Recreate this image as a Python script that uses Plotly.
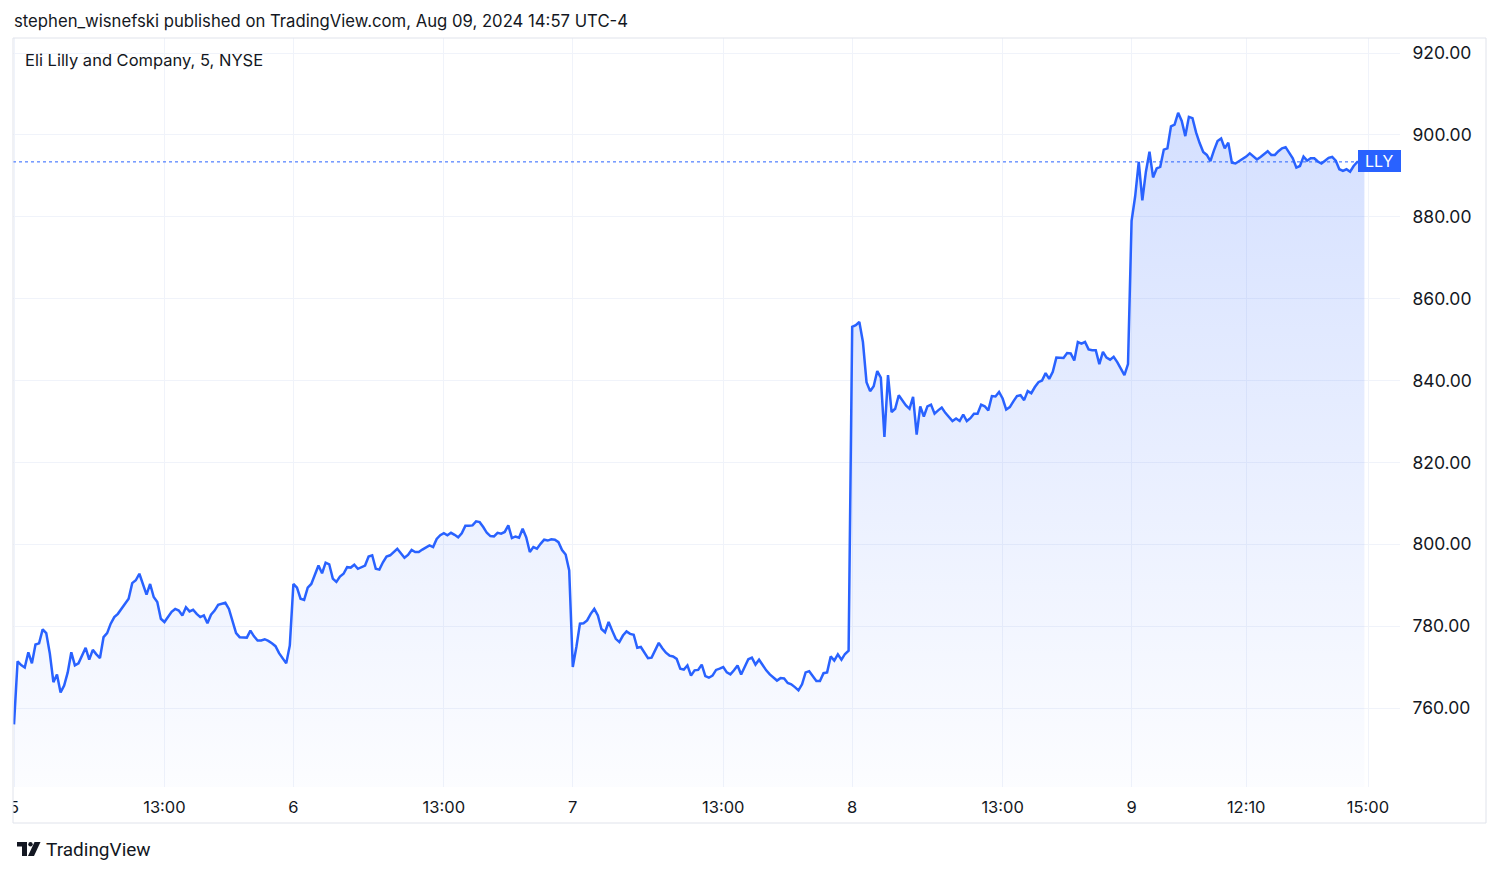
import numpy as np
import plotly.graph_objects as go

# ---------------- data (5-minute closes, LLY, Aug 5-9 2024) ----------------
day5 = [756.0, 771.4, 770.5, 769.9, 773.6, 770.9, 775.5, 775.8, 779.2, 778.3,
        773.3, 766.3, 768.2, 763.8, 765.5, 768.7, 773.6, 770.4, 770.9, 773.0,
        774.7, 771.8, 774.2, 773.1, 772.2, 777.3, 778.3, 780.6, 782.2, 783.0,
        784.2, 785.2, 786.7, 790.5, 791.2, 792.8, 790.2, 787.7, 790.3, 787.1,
        785.9, 781.8, 781.0, 782.2, 783.5, 784.2, 783.8, 782.6, 784.6, 783.6,
        784.0, 783.0, 782.2, 782.6, 780.7, 782.8, 783.8, 785.2, 785.4, 785.7,
        784.2, 781.4, 778.3, 777.3, 777.2, 777.2, 778.9, 777.5, 776.5, 776.5,
        776.8, 776.4, 775.8, 775.1, 773.4, 772.2, 770.9, 775.3]
day6 = [790.3, 789.4, 786.7, 786.4, 789.4, 790.3, 792.4, 794.8, 792.9, 795.5,
        795.1, 791.6, 790.8, 792.1, 792.8, 794.4, 794.3, 795.0, 794.0, 794.4,
        794.8, 797.0, 797.3, 794.0, 793.8, 795.6, 797.0, 797.3, 798.1, 798.9,
        797.8, 796.7, 797.4, 798.6, 798.1, 798.1, 798.7, 799.3, 799.7, 799.3,
        801.3, 802.2, 802.7, 802.2, 802.8, 802.3, 801.7, 802.7, 804.5, 804.5,
        804.6, 805.6, 805.4, 804.2, 802.8, 802.0, 801.9, 802.8, 802.6, 803.0,
        804.6, 801.5, 801.9, 801.6, 803.8, 801.7, 798.1, 799.3, 798.9, 800.1,
        801.1, 800.9, 801.2, 801.1, 800.5, 798.6, 797.5, 793.6]
day7 = [770.0, 774.9, 780.6, 780.7, 781.4, 783.0, 784.2, 782.6, 779.3, 778.5,
        781.0, 778.9, 776.9, 776.1, 777.7, 778.7, 778.1, 777.9, 774.7, 774.9,
        773.4, 772.2, 772.3, 774.1, 775.9, 774.6, 773.5, 772.8, 772.6, 772.0,
        769.6, 769.4, 770.4, 767.9, 769.2, 769.3, 770.6, 767.8, 767.4, 767.9,
        769.3, 769.6, 770.0, 768.7, 768.2, 769.2, 770.4, 768.2, 770.2, 771.9,
        772.3, 770.6, 771.8, 770.4, 769.2, 768.2, 767.5, 766.7, 767.3, 767.2,
        766.1, 765.8, 765.1, 764.3, 765.8, 768.7, 769.0, 767.7, 766.6, 766.6,
        768.5, 768.7, 772.6, 771.6, 773.1, 771.8, 773.2, 774.0]
day8 = [853.1, 853.5, 854.3, 849.4, 839.6, 837.4, 838.6, 842.3, 840.7, 826.2,
        841.3, 832.3, 833.1, 836.4, 835.2, 833.9, 833.1, 836.0, 826.8, 833.7,
        831.2, 833.7, 834.1, 831.9, 832.7, 833.4, 832.1, 831.1, 830.1, 830.7,
        830.1, 831.7, 830.1, 830.8, 831.9, 831.9, 834.1, 833.7, 832.7, 836.2,
        836.1, 837.2, 835.6, 832.9, 833.5, 834.9, 836.2, 836.4, 835.2, 837.4,
        836.9, 838.4, 839.6, 840.0, 841.8, 840.4, 842.1, 845.6, 845.5, 845.5,
        846.7, 846.6, 844.9, 849.4, 849.0, 849.4, 847.6, 847.4, 847.4, 844.0,
        847.0, 845.6, 845.1, 845.8, 844.5, 842.7, 841.3, 844.0]
day9 = [879.0, 885.0, 893.4, 884.0, 891.0, 895.9, 889.6, 891.8, 892.2, 896.4,
        896.7, 902.1, 902.5, 905.4, 903.4, 899.7, 904.4, 904.1, 900.6, 898.0,
        895.8, 895.1, 893.6, 896.2, 898.5, 899.1, 896.7, 898.1, 893.2, 893.0,
        893.6, 894.0, 894.7, 895.5, 894.7, 894.0, 894.6, 895.3, 896.0, 895.1,
        895.1, 896.0, 896.7, 897.0, 895.5, 894.3, 892.0, 892.4, 894.7, 893.7,
        894.3, 894.3, 893.5, 893.0, 893.7, 894.4, 894.6, 893.7, 891.6, 891.2,
        891.6, 891.0, 892.4, 893.4, 893.4, 893.4]

tick_bars = [0, 42, 78, 120, 156, 198, 234, 276, 312, 344, 378]
tick_labels = ["5", "13:00", "6", "13:00", "7", "13:00", "8", "13:00", "9", "12:10", "15:00"]
price_ticks = [760, 780, 800, 820, 840, 860, 880, 900, 920]
last_price = day9[-1]
symbol = "LLY"
title_text = "stephen_wisnefski published on TradingView.com, Aug 09, 2024 14:57 UTC-4"
series_title = "Eli Lilly and Company, 5, NYSE"

closes = day5 + day6 + day7 + day8 + day9
bars = np.arange(len(closes))

# ---------------- layout geometry (page pixels; the page body has an 8px margin) ----------------
OFF = 8
W, H = 1500 - OFF, 873 - OFF
PL, PR, PT, PB = 9, 1400, 38, 787          # plot box in page pixels
ML, MR, MT, MB = PL - OFF, W - (PR - OFF), PT - OFF, H - (PB - OFF)
PW, PH = W - ML - MR, H - MT - MB
BAR_PX = 3.582
X0_PX = 14.0  # page pixel of bar 0
x_lo = (PL - X0_PX) / BAR_PX
x_hi = (PR - X0_PX) / BAR_PX
PX_PER_USD = (708 - 53) / 160.0
y_hi = 920 + (53 - PT) / PX_PER_USD
y_lo = 920 - (PB - 53) / PX_PER_USD

def px(xp):
    return (xp - PL) / PW

def py(yp):
    return (PB - yp) / PH

BLUE = "#2962FF"
TEXT = "#131722"
GRID = "#F0F3FA"
FONT = "Inter, Roboto, sans-serif"

fig = go.Figure()
fig.add_trace(go.Scatter(
    x=bars, y=closes, mode="lines",
    line=dict(color=BLUE, width=2.5),
    fill="tozeroy",
    fillgradient=dict(type="vertical",
                      colorscale=[[0, "rgba(41,98,255,0.015)"], [1, "rgba(41,98,255,0.20)"]],
                      start=y_lo, stop=max(closes)),
    hoverinfo="skip", showlegend=False,
))

shapes = []
shapes.append(dict(type="line", xref="paper", yref="y", x0=px(13), x1=px(1358),
                   y0=last_price, y1=last_price,
                   line=dict(color=BLUE, width=1, dash="dot")))
shapes.append(dict(type="rect", xref="paper", yref="paper",
                   x0=px(1358), x1=px(1401), y0=py(172), y1=py(150),
                   fillcolor=BLUE, line=dict(width=0), layer="above"))
# white masks: left of frame (clips the "5" label and line start like the reference pane)
shapes.append(dict(type="rect", xref="paper", yref="paper",
                   x0=px(OFF), x1=px(13), y0=py(823), y1=py(38),
                   fillcolor="white", line=dict(width=0), layer="above"))
shapes.append(dict(type="rect", xref="paper", yref="paper",
                   x0=px(13), x1=px(1486), y0=py(823), y1=py(38),
                   line=dict(color="#E0E3EB", width=1), layer="above"))

def path(points):
    return "M " + " L ".join(f"{px(a):.6f},{py(b):.6f}" for a, b in points) + " Z"

shapes.append(dict(type="path", xref="paper", yref="paper",
                   path=path([(17, 842), (27, 842), (27, 856), (22, 856), (22, 846.5), (17, 846.5)]),
                   fillcolor=TEXT, line=dict(width=0)))
shapes.append(dict(type="path", xref="paper", yref="paper",
                   path=path([(34.5, 842), (40.5, 842), (34, 856), (28, 856)]),
                   fillcolor=TEXT, line=dict(width=0)))
shapes.append(dict(type="circle", xref="paper", yref="paper",
                   x0=px(28.3), x1=px(32.7), y0=py(846.5), y1=py(842.1),
                   fillcolor=TEXT, line=dict(width=0)))

annotations = [
    dict(text=title_text, xref="paper", yref="paper", x=px(12), y=py(21),
         xanchor="left", yanchor="middle", showarrow=False,
         font=dict(family=FONT, size=16.7, color=TEXT)),
    dict(text=series_title, xref="paper", yref="paper", x=px(23), y=py(60),
         xanchor="left", yanchor="middle", showarrow=False,
         font=dict(family=FONT, size=16.5, color=TEXT)),
    dict(text=symbol, xref="paper", yref="paper", x=px(1379.5), y=py(161),
         xanchor="center", yanchor="middle", showarrow=False,
         font=dict(family=FONT, size=16, color="white")),
    dict(text="TradingView", xref="paper", yref="paper", x=px(44), y=py(849),
         xanchor="left", yanchor="middle", showarrow=False,
         font=dict(family="Roboto, sans-serif", size=19, color=TEXT)),
]

fig.update_layout(
    width=W, height=H,
    margin=dict(l=ML, r=MR, t=MT, b=MB, pad=0, autoexpand=False),
    paper_bgcolor="white", plot_bgcolor="white",
    font=dict(family=FONT, color=TEXT),
    shapes=shapes, annotations=annotations,
    xaxis=dict(range=[x_lo, x_hi], tickvals=tick_bars, ticktext=tick_labels,
               showgrid=True, gridcolor=GRID, gridwidth=1, zeroline=False, showline=False,
               ticks="outside", ticklen=5, tickcolor="rgba(0,0,0,0)", automargin=False,
               tickfont=dict(family=FONT, size=16.5, color=TEXT), fixedrange=True),
    yaxis=dict(range=[y_lo, y_hi], side="right", tickvals=price_ticks,
               ticktext=[f"{v:.2f}" for v in price_ticks],
               showgrid=True, gridcolor=GRID, gridwidth=1, zeroline=False, showline=False,
               ticks="outside", ticklen=8, tickcolor="rgba(0,0,0,0)", automargin=False,
               tickfont=dict(family=FONT, size=17.5, color=TEXT), fixedrange=True),
)

fig.write_html("out.html")
